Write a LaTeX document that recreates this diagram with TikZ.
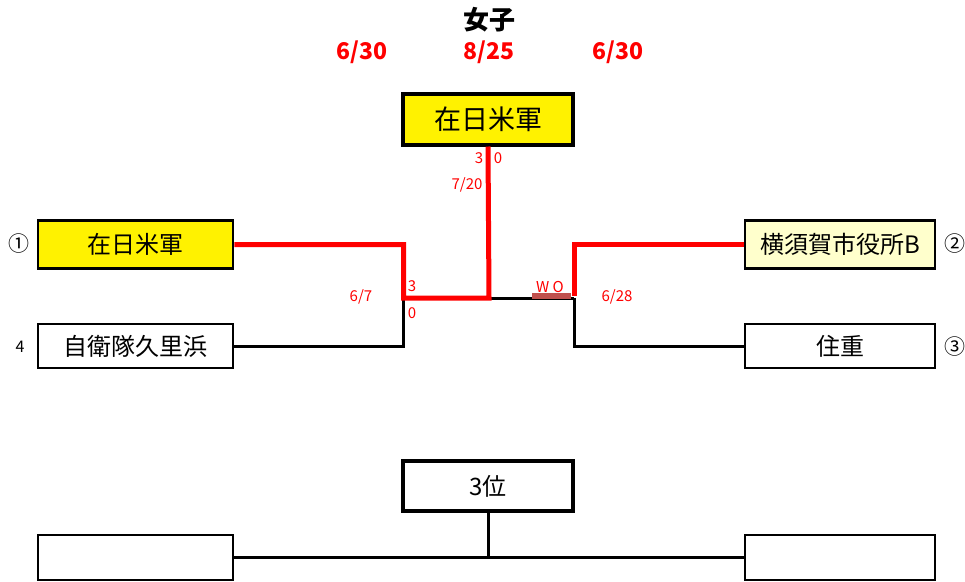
\documentclass[tikz,border=0pt]{standalone}
\usepackage{fontspec}
\setmainfont{Noto Sans CJK JP}
\usepackage{tikz}
\usetikzlibrary{positioning}
\definecolor{winred}{RGB}{255,0,0}
\definecolor{wored}{RGB}{192,80,77}
\definecolor{paleyellow}{RGB}{255,255,204}
\tikzset{
  every node/.style={
    font=\fontsize{15}{15}\selectfont
  },
  team/.style={
    shape=rectangle,
    draw=black,
    line width=2.5pt,
    fill=white,
    minimum width=195pt,
    minimum height=48pt,
    inner sep=0pt,
    font=\fontsize{24}{24}\selectfont
  },
  final/.style={
    team,
    line width=4pt,
    minimum width=170pt,
    minimum height=51pt
  },
  win/.style={
    draw=winred,
    line width=5pt
  },
  loss/.style={
    draw=black,
    line width=3pt
  },
  score/.style={
    text=winred,
    inner sep=0pt
  },
  date/.style={
    text=winred,
    font=\fontsize{23}{23}\selectfont\bfseries
  },
  seed/.style={
    font=\fontsize{21}{21}\selectfont
  }
}

\begin{document}
\begin{tikzpicture}[x=1pt,y=-1pt]
\useasboundingbox (0,0) rectangle (965,581);

% title and dates
\node [font=\fontsize{26}{26}\selectfont\bfseries] (title) at (489,20) {女子};
\node [date] (d1) at (362,52) {6/30};
\node [date] (d2) at (489,52) {8/25};
\node [date] (d3) at (618,52) {6/30};

% teams
\node [final,fill=yellow,font=\fontsize{27}{27}\selectfont] (champ) at (488,119) {在日米軍};
\node [team,fill=yellow] (l1) at (135.5,244.5) {在日米軍};
\node [team,minimum height=44pt] (l2) at (135.5,346) {自衛隊久里浜};
\node [team,fill=paleyellow,minimum width=190pt] (r1) at (840,244.5) {横須賀市役所B};
\node [team,minimum width=190pt,minimum height=44pt] (r2) at (840,346) {住重};
\node [final,minimum height=50pt] (third) at (488,486) {3位};
\node [team,minimum height=45pt] (bl) at (135.5,557.5) {};
\node [team,minimum width=190pt,minimum height=45pt] (br) at (840,557.5) {};

\node [seed] (s1) at (19,244) {①};
\node [font=\fontsize{16}{16}\selectfont] (s4) at (20,347) {4};
\node [seed] (s2) at (955,244) {②};
\node [seed] (s3) at (955,347) {③};

% bracket
\coordinate (jl) at (403.5,298);
\coordinate (jc) at (489,298);
\coordinate (jr) at (574,298);
\draw [loss] (l2.east) -| (jl);
\draw [loss] (r2.west) -| (jr);
\draw [loss] (jc) -- (jr);
\draw [wored,line width=6pt] (532,296) -- (571,296);
\draw [win] (l1.east) -| (jl) -- (jc) -- (champ.south);
\draw [win] (r1.west) -| ([yshift=2.5pt]jr);

\draw [loss] (bl.east) -- (br.west);
\draw [loss] (third.south) -- (third.south |- bl.east);

% scores
\node [score] (sc1) at (479,158) {3};
\node [score] (sc2) at (498,158) {0};
\node [score] (dt1) at (467,185) {7/20};
\node [score] (sc3) at (412,286) {3};
\node [score] (sc4) at (412,313) {0};
\node [score] (dt2) at (361,297) {6/7};
\node [score] (sc5) at (550,287) {W O};
\node [score] (dt3) at (617,297) {6/28};

\end{tikzpicture}
\end{document}
